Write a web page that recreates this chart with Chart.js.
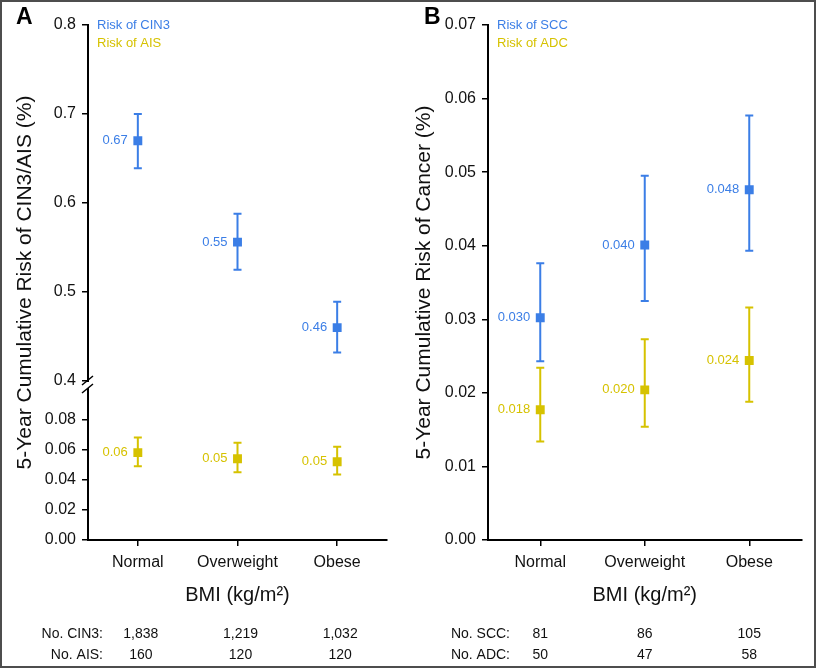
<!DOCTYPE html>
<html>
<head>
<meta charset="utf-8">
<script src="https://cdn.jsdelivr.net/npm/chart.js@4.4.0/dist/chart.umd.min.js"></script>
<style>
html, body { margin: 0; padding: 0; background: #fff; }
#wrap { position: relative; width: 816px; height: 668px; overflow: hidden; }
.panel { position: absolute; top: 0; width: 408px; height: 668px; }
#frame { position: absolute; left: 0; top: 0; width: 816px; height: 668px; box-sizing: border-box; border: 2px solid #4d4d4d; pointer-events: none; }
</style>
</head>
<body>
<div id="wrap">
    <div class="panel" style="left:0"><canvas id="chartA"></canvas></div>
    <div class="panel" style="left:408px"><canvas id="chartB"></canvas></div>
    <div id="frame"></div>
</div>
<script>
const categories = ["Normal", "Overweight", "Obese"];

// panel A
const cin3Risk = [0.670, 0.556, 0.460];
const cin3Lower = [0.639, 0.525, 0.432];
const cin3Upper = [0.700, 0.588, 0.489];
const cin3Text = ["0.67", "0.55", "0.46"];
const aisRisk = [0.058, 0.054, 0.052];
const aisLower = [0.049, 0.045, 0.0435];
const aisUpper = [0.068, 0.0645, 0.062];
const aisText = ["0.06", "0.05", "0.05"];
const cin3Counts = ["1,838", "1,219", "1,032"];
const aisCounts = ["160", "120", "120"];
const ticksUpperA = [0.4, 0.5, 0.6, 0.7, 0.8];
const ticksLowerA = [0, 0.02, 0.04, 0.06, 0.08];

// panel B
const sccRisk = [0.0302, 0.0401, 0.0476];
const sccLower = [0.0243, 0.0325, 0.0393];
const sccUpper = [0.0376, 0.0495, 0.0577];
const sccText = ["0.030", "0.040", "0.048"];
const adcRisk = [0.0177, 0.0204, 0.0244];
const adcLower = [0.0134, 0.0154, 0.0188];
const adcUpper = [0.0234, 0.0273, 0.0316];
const adcText = ["0.018", "0.020", "0.024"];
const sccCounts = ["81", "86", "105"];
const adcCounts = ["50", "47", "58"];
const ticksB = [0, 0.01, 0.02, 0.03, 0.04, 0.05, 0.06, 0.07];

const BLUE = "#3b7ee6";
const YELLOW = "#d6c200";
const FONT = "'Liberation Sans', Arial, sans-serif";

function pointSet(label, data, color, axis) {
    return {
        label, data, yAxisID: axis,
        showLine: false,
        pointStyle: "rect",
        pointRadius: 6.3,
        pointHoverRadius: 6.3,
        pointBorderWidth: 0,
        backgroundColor: color,
        borderColor: color,
    };
}

function yScale(ticks, digits, extra) {
    return Object.assign({
        type: "linear",
        position: "left",
        afterBuildTicks: (s) => { s.ticks = ticks.map((v) => ({ value: v })); },
        afterFit: (s) => { s.width = extra.w; },
        grid: { display: true, drawOnChartArea: false, tickLength: 6, color: "#000", lineWidth: 1.5 },
        border: { display: true, color: "#000", width: 2 },
        ticks: { color: "#111", padding: 6, font: { family: FONT, size: 16 }, callback: (v) => v.toFixed(digits) },
    }, extra.opts);
}

function xScale() {
    return {
        type: "category",
        offset: true,
        afterFit: (s) => { s.height = 128; },
        grid: { display: true, drawOnChartArea: false, tickLength: 6, color: "#000", lineWidth: 1.5 },
        border: { display: true, color: "#000", width: 2 },
        ticks: { color: "#111", padding: 7, font: { family: FONT, size: 16 } },
    };
}

// error bars, point labels, titles, legend text and count table
function decor(cfg) {
    return {
        id: "decor" + cfg.letter,
        beforeDatasetsDraw(chart) {
            const ctx = chart.ctx;
            const x = chart.scales.x;
            cfg.series.forEach((s) => {
                const y = chart.scales[s.axis];
                ctx.save();
                ctx.strokeStyle = s.color;
                ctx.lineWidth = 2;
                s.lower.forEach((lo, i) => {
                    const px = x.getPixelForValue(i);
                    const y1 = y.getPixelForValue(lo);
                    const y2 = y.getPixelForValue(s.upper[i]);
                    ctx.beginPath();
                    ctx.moveTo(px, y1); ctx.lineTo(px, y2);
                    ctx.moveTo(px - 4, y1); ctx.lineTo(px + 4, y1);
                    ctx.moveTo(px - 4, y2); ctx.lineTo(px + 4, y2);
                    ctx.stroke();
                });
                ctx.restore();
            });
        },
        afterDraw(chart) {
            const ctx = chart.ctx;
            const area = chart.chartArea;
            const x = chart.scales.x;
            ctx.save();
            // value labels
            ctx.font = "13px " + FONT;
            ctx.textAlign = "right";
            ctx.textBaseline = "middle";
            cfg.series.forEach((s, di) => {
                ctx.fillStyle = s.color;
                chart.getDatasetMeta(di).data.forEach((pt, i) => {
                    ctx.fillText(s.text[i], pt.x - 10, pt.y);
                });
            });
            // legend text
            ctx.textAlign = "left";
            cfg.series.forEach((s, di) => {
                ctx.fillStyle = s.color;
                ctx.fillText(s.name, area.left + 9, 25 + di * 18);
            });
            // panel letter
            ctx.fillStyle = "#000";
            ctx.font = "bold 23px " + FONT;
            ctx.fillText(cfg.letter, 16, 18);
            // axis titles
            ctx.font = "20px " + FONT;
            ctx.textAlign = "center";
            ctx.fillStyle = "#111";
            ctx.fillText("BMI (kg/m\u00b2)", (area.left + area.right) / 2, 595);
            ctx.save();
            ctx.font = "21px " + FONT;
            ctx.translate(cfg.titleX, (area.top + area.bottom) / 2);
            ctx.rotate(-Math.PI / 2);
            ctx.fillText(cfg.yTitle, 0, 0);
            ctx.restore();
            // count table
            ctx.font = "14px " + FONT;
            cfg.rows.forEach((r, ri) => {
                const ty = 634 + ri * 21;
                ctx.textAlign = "right";
                ctx.fillText(r.name, cfg.rowLabelX, ty);
                ctx.textAlign = "center";
                r.counts.forEach((c, i) => ctx.fillText(c, x.getPixelForValue(i) + cfg.shift, ty));
            });
            // axis break
            if (cfg.breakY) {
                const bx = area.left;
                const by = cfg.breakY;
                ctx.fillStyle = "#fff";
                ctx.fillRect(bx - 3, by - 3, 6, 6);
                ctx.strokeStyle = "#000";
                ctx.lineWidth = 1.5;
                ctx.beginPath();
                ctx.moveTo(bx - 6, by - 0); ctx.lineTo(bx + 5, by - 9);
                ctx.moveTo(bx - 6, by + 8); ctx.lineTo(bx + 5, by - 1);
                ctx.stroke();
            }
            ctx.restore();
        },
    };
}

// panel A: broken y axis built from two stacked scales
const splitY = 385;
const upperMin = 0.8 - (splitY - 25) / 890;
const lowerMax = (540 - splitY) / 1506;

new Chart(document.getElementById("chartA"), {
    type: "line",
    data: {
        labels: categories,
        datasets: [
            pointSet("Risk of CIN3", cin3Risk, BLUE, "yTop"),
            pointSet("Risk of AIS", aisRisk, YELLOW, "yBot"),
        ],
    },
    options: {
        responsive: true,
        maintainAspectRatio: false,
        animation: false,
        events: [],
        layout: { padding: { left: 0, top: 25, right: 21, bottom: 0 } },
        plugins: { legend: { display: false }, tooltip: { enabled: false } },
        scales: {
            x: xScale(),
            yBot: yScale(ticksLowerA, 2, { w: 88, opts: { stack: "a", stackWeight: 540 - splitY, min: 0, max: lowerMax } }),
            yTop: yScale(ticksUpperA, 1, { w: 88, opts: { stack: "a", stackWeight: splitY - 25, min: upperMin, max: 0.8 } }),
        },
    },
    plugins: [decor({
        letter: "A",
        yTitle: "5-Year Cumulative Risk of CIN3/AIS (%)",
        titleX: 25,
        rowLabelX: 103,
        shift: 3,
        breakY: splitY,
        series: [
            { name: "Risk of CIN3", axis: "yTop", color: BLUE, lower: cin3Lower, upper: cin3Upper, text: cin3Text },
            { name: "Risk of AIS", axis: "yBot", color: YELLOW, lower: aisLower, upper: aisUpper, text: aisText },
        ],
        rows: [
            { name: "No. CIN3:", counts: cin3Counts },
            { name: "No. AIS:", counts: aisCounts },
        ],
    })],
});

new Chart(document.getElementById("chartB"), {
    type: "line",
    data: {
        labels: categories,
        datasets: [
            pointSet("Risk of SCC", sccRisk, BLUE, "y"),
            pointSet("Risk of ADC", adcRisk, YELLOW, "y"),
        ],
    },
    options: {
        responsive: true,
        maintainAspectRatio: false,
        animation: false,
        events: [],
        layout: { padding: { left: 0, top: 25, right: 14.5, bottom: 0 } },
        plugins: { legend: { display: false }, tooltip: { enabled: false } },
        scales: {
            x: xScale(),
            y: yScale(ticksB, 2, { w: 80, opts: { min: 0, max: 0.07 } }),
        },
    },
    plugins: [decor({
        letter: "B",
        yTitle: "5-Year Cumulative Risk of Cancer (%)",
        titleX: 16,
        rowLabelX: 102,
        shift: 0,
        breakY: null,
        series: [
            { name: "Risk of SCC", axis: "y", color: BLUE, lower: sccLower, upper: sccUpper, text: sccText },
            { name: "Risk of ADC", axis: "y", color: YELLOW, lower: adcLower, upper: adcUpper, text: adcText },
        ],
        rows: [
            { name: "No. SCC:", counts: sccCounts },
            { name: "No. ADC:", counts: adcCounts },
        ],
    })],
});
</script>
</body>
</html>
